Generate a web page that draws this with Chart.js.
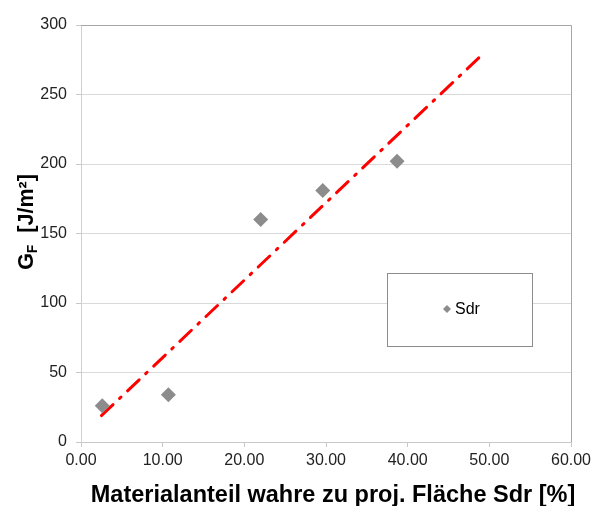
<!DOCTYPE html>
<html>
<head>
<meta charset="utf-8">
<script src="https://cdn.jsdelivr.net/npm/chart.js@4"></script>
<style>
  html, body { margin: 0; padding: 0; background: #fff; }
  #wrap { position: relative; width: 591px; height: 506px; }
</style>
</head>
<body>
<div id="wrap"><canvas id="c" width="591" height="506"></canvas></div>
<script>
// Data
const sdrX = [2.6, 10.7, 22.0, 29.6, 38.7];
const gfY = [26, 34, 160, 181, 202];
const trendX = [2.5, 49.0];
const trendY = [19, 278];
const xTicks = [0, 10, 20, 30, 40, 50, 60];
const yTicks = [0, 50, 100, 150, 200, 250, 300];
const seriesName = 'Sdr';
const xTitle = 'Materialanteil wahre zu proj. Fläche Sdr [%]';

const FONT = '"Liberation Sans", Arial, sans-serif';

const scatterData = sdrX.map((x, i) => ({ x, y: gfY[i] }));
const trendData = trendX.map((x, i) => ({ x, y: trendY[i] }));

const extras = {
  id: 'extras',
  afterDraw(chart) {
    const ctx = chart.ctx;
    const a = chart.chartArea;
    ctx.save();
    // plot border (top and right darker)
    ctx.strokeStyle = '#a6a6a6';
    ctx.lineWidth = 1;
    ctx.beginPath();
    ctx.moveTo(a.left, a.top + 0.5);
    ctx.lineTo(a.right + 0.5, a.top + 0.5);
    ctx.lineTo(a.right + 0.5, a.bottom);
    ctx.stroke();

    // legend box
    const lx = 387, ly = 273, lw = 145, lh = 73;
    ctx.fillStyle = '#fff';
    ctx.fillRect(lx, ly, lw, lh);
    ctx.strokeStyle = '#8c8c8c';
    ctx.lineWidth = 1;
    ctx.strokeRect(lx + 0.5, ly + 0.5, lw, lh);
    // legend marker
    const mx = 447, my = 309, r = 4;
    ctx.fillStyle = '#8c8c8c';
    ctx.beginPath();
    ctx.moveTo(mx, my - r); ctx.lineTo(mx + r, my); ctx.lineTo(mx, my + r); ctx.lineTo(mx - r, my);
    ctx.closePath(); ctx.fill();
    ctx.fillStyle = '#000';
    ctx.font = '16px ' + FONT;
    ctx.textBaseline = 'middle';
    ctx.textAlign = 'left';
    ctx.fillText(seriesName, 455, 310);

    // x axis title
    ctx.font = 'bold 23.5px ' + FONT;
    ctx.textAlign = 'center';
    ctx.textBaseline = 'alphabetic';
    ctx.fillText(xTitle, 333, 502);

    // y axis title G_F [J/m²]
    ctx.translate(26, 222);
    ctx.rotate(-Math.PI / 2);
    ctx.fillStyle = '#000';
    ctx.textAlign = 'left';
    ctx.textBaseline = 'alphabetic';
    const big = 'bold 21.5px ' + FONT, small = 'bold 14px ' + FONT;
    const g = 'G';
    const rest = '  [J/m²]';
    ctx.font = big;
    const wG = ctx.measureText(g).width;
    ctx.font = small;
    const wF = ctx.measureText('F').width;
    ctx.font = big;
    const wR = ctx.measureText(rest).width;
    const total = wG + wF + wR;
    const x0 = -total / 2;
    ctx.fillText(g, x0, 7);
    ctx.font = small;
    ctx.fillText('F', x0 + wG, 11);
    ctx.font = big;
    ctx.fillText(rest, x0 + wG + wF, 7);
    ctx.restore();
  }
};

new Chart(document.getElementById('c'), {
  type: 'scatter',
  data: {
    datasets: [
      {
        label: seriesName,
        data: scatterData,
        pointStyle: 'rectRot',
        pointRadius: 7.5,
        pointHoverRadius: 7.5,
        backgroundColor: '#8c8c8c',
        borderColor: '#8c8c8c',
        borderWidth: 0,
        showLine: false,
        order: 1
      },
      {
        label: 'trend',
        data: trendData,
        showLine: true,
        pointRadius: 0,
        borderColor: '#ff0000',
        borderWidth: 3,
        borderDash: [16, 9, 2, 9],
        borderCapStyle: 'round',
        fill: false,
        order: 2
      }
    ]
  },
  plugins: [extras],
  options: {
    responsive: false,
    animation: false,
    devicePixelRatio: 1,
    layout: { padding: { left: 0, right: 20, top: 25, bottom: 0 } },
    plugins: {
      legend: { display: false },
      tooltip: { enabled: false }
    },
    scales: {
      x: {
        type: 'linear',
        min: 0, max: 60,
        afterBuildTicks(s) { s.ticks = xTicks.map(v => ({ value: v })); },
        afterFit(s) { s.height = 64; s.paddingLeft = 0; s.paddingRight = 0; },
        ticks: {
          color: '#222',
          font: { family: FONT, size: 16 },
          padding: 4,
          maxRotation: 0,
          callback: v => v.toFixed(2)
        },
        grid: {
          display: true,
          drawOnChartArea: false,
          drawTicks: true,
          tickLength: 5,
          color: '#c8c8c8'
        },
        border: { display: true, color: '#c8c8c8', width: 1 },
        title: { display: false }
      },
      y: {
        type: 'linear',
        min: 0, max: 300,
        afterBuildTicks(s) { s.ticks = yTicks.map(v => ({ value: v })); },
        afterFit(s) { s.width = 81; s.paddingTop = 0; s.paddingBottom = 0; },
        ticks: {
          color: '#222',
          font: { family: FONT, size: 16 },
          padding: 9
        },
        grid: {
          display: true,
          color: '#d9d9d9',
          lineWidth: 1,
          drawTicks: true,
          tickLength: 5,
          tickColor: '#c8c8c8'
        },
        border: { display: true, color: '#d0d0d0', width: 1 }
      }
    }
  }
});
</script>
</body>
</html>
